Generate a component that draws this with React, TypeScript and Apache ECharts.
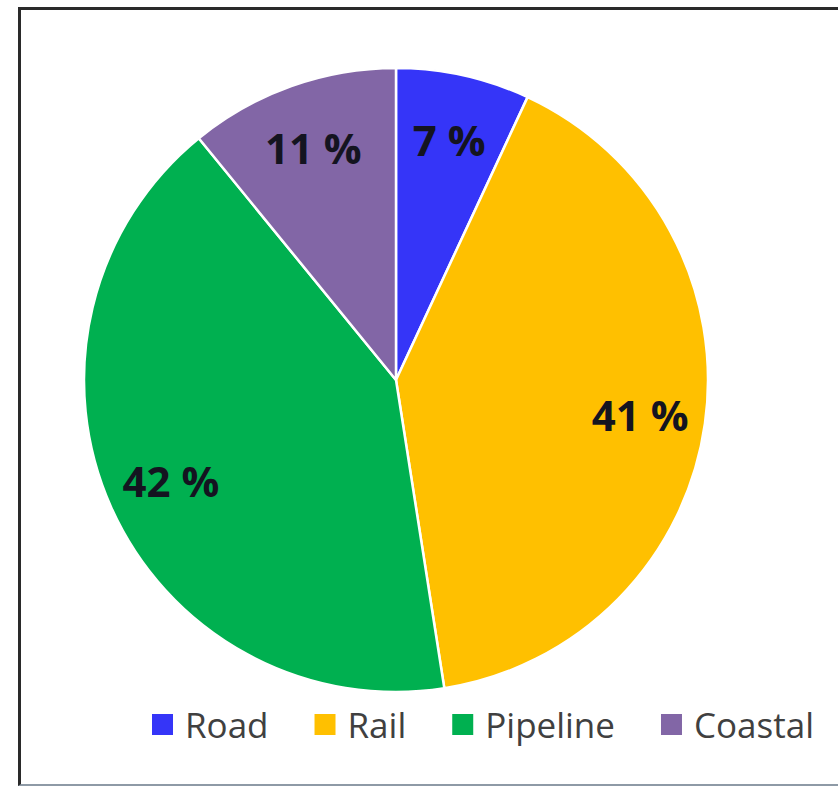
import React, { useEffect, useRef } from "react";
import * as echarts from "echarts";

const categories = ["Road", "Rail", "Pipeline", "Coastal"];
const shares = [7, 41, 42, 11];
const colors = ["#3535f8", "#ffc000", "#00b050", "#8266a6"];

export default function App() {
  const ref = useRef<HTMLDivElement>(null);
  useEffect(() => {
    if (!ref.current) return;
    const chart = echarts.init(ref.current, undefined, { renderer: "svg" });
    const data = categories.map((name, i) => ({ name, value: shares[i], itemStyle: { color: colors[i] } }));
    chart.setOption({
      animation: false,
      backgroundColor: "#ffffff",
      legend: {
        data: categories.map((name, i) => ({ name, itemStyle: { color: colors[i] } })),
        left: 145,
        top: 702,
        orient: "horizontal",
        icon: "rect",
        itemWidth: 23,
        itemHeight: 23,
        itemGap: 44,
        selectedMode: false,
        textStyle: { fontFamily: "Open Sans", fontSize: 35, color: "#404040", padding: [0, 0, 0, 6] },
      },
      series: [
        {
          type: "pie",
          center: [396, 380],
          radius: [0, 312],
          startAngle: 90,
          clockwise: true,
          silent: true,
          label: { show: false },
          labelLine: { show: false },
          itemStyle: { borderColor: "#ffffff", borderWidth: 2.5 },
          data,
        },
        {
          type: "pie",
          center: [396, 380],
          radius: [175, 312],
          startAngle: 90,
          clockwise: true,
          silent: true,
          z: 5,
          labelLine: { show: false },
          itemStyle: { color: "rgba(0,0,0,0)", borderWidth: 0 },
          label: {
            show: true,
            position: "inside",
            formatter: (p: any) => `${p.value} %`,
            fontFamily: "Open Sans",
            fontWeight: "bold",
            fontSize: 42,
            color: "#141420",
          },
          data: categories.map((name, i) => ({ name, value: shares[i] })),
        },
      ],
    });
    return () => chart.dispose();
  }, []);
  return (
    <div style={{ position: "fixed", left: 0, top: 0, width: 838, height: 787, background: "#fff" }}>
      <div ref={ref} style={{ position: "absolute", left: 0, top: 0, width: 838, height: 787 }} />
      <div
        style={{
          position: "absolute",
          left: 18,
          top: 7,
          width: 840,
          height: 774,
          borderLeft: "3px solid #2a2a2a",
          borderTop: "3px solid #2a2a2a",
          borderBottom: "2px solid #8e9aa6",
          pointerEvents: "none",
        }}
      />
    </div>
  );
}
